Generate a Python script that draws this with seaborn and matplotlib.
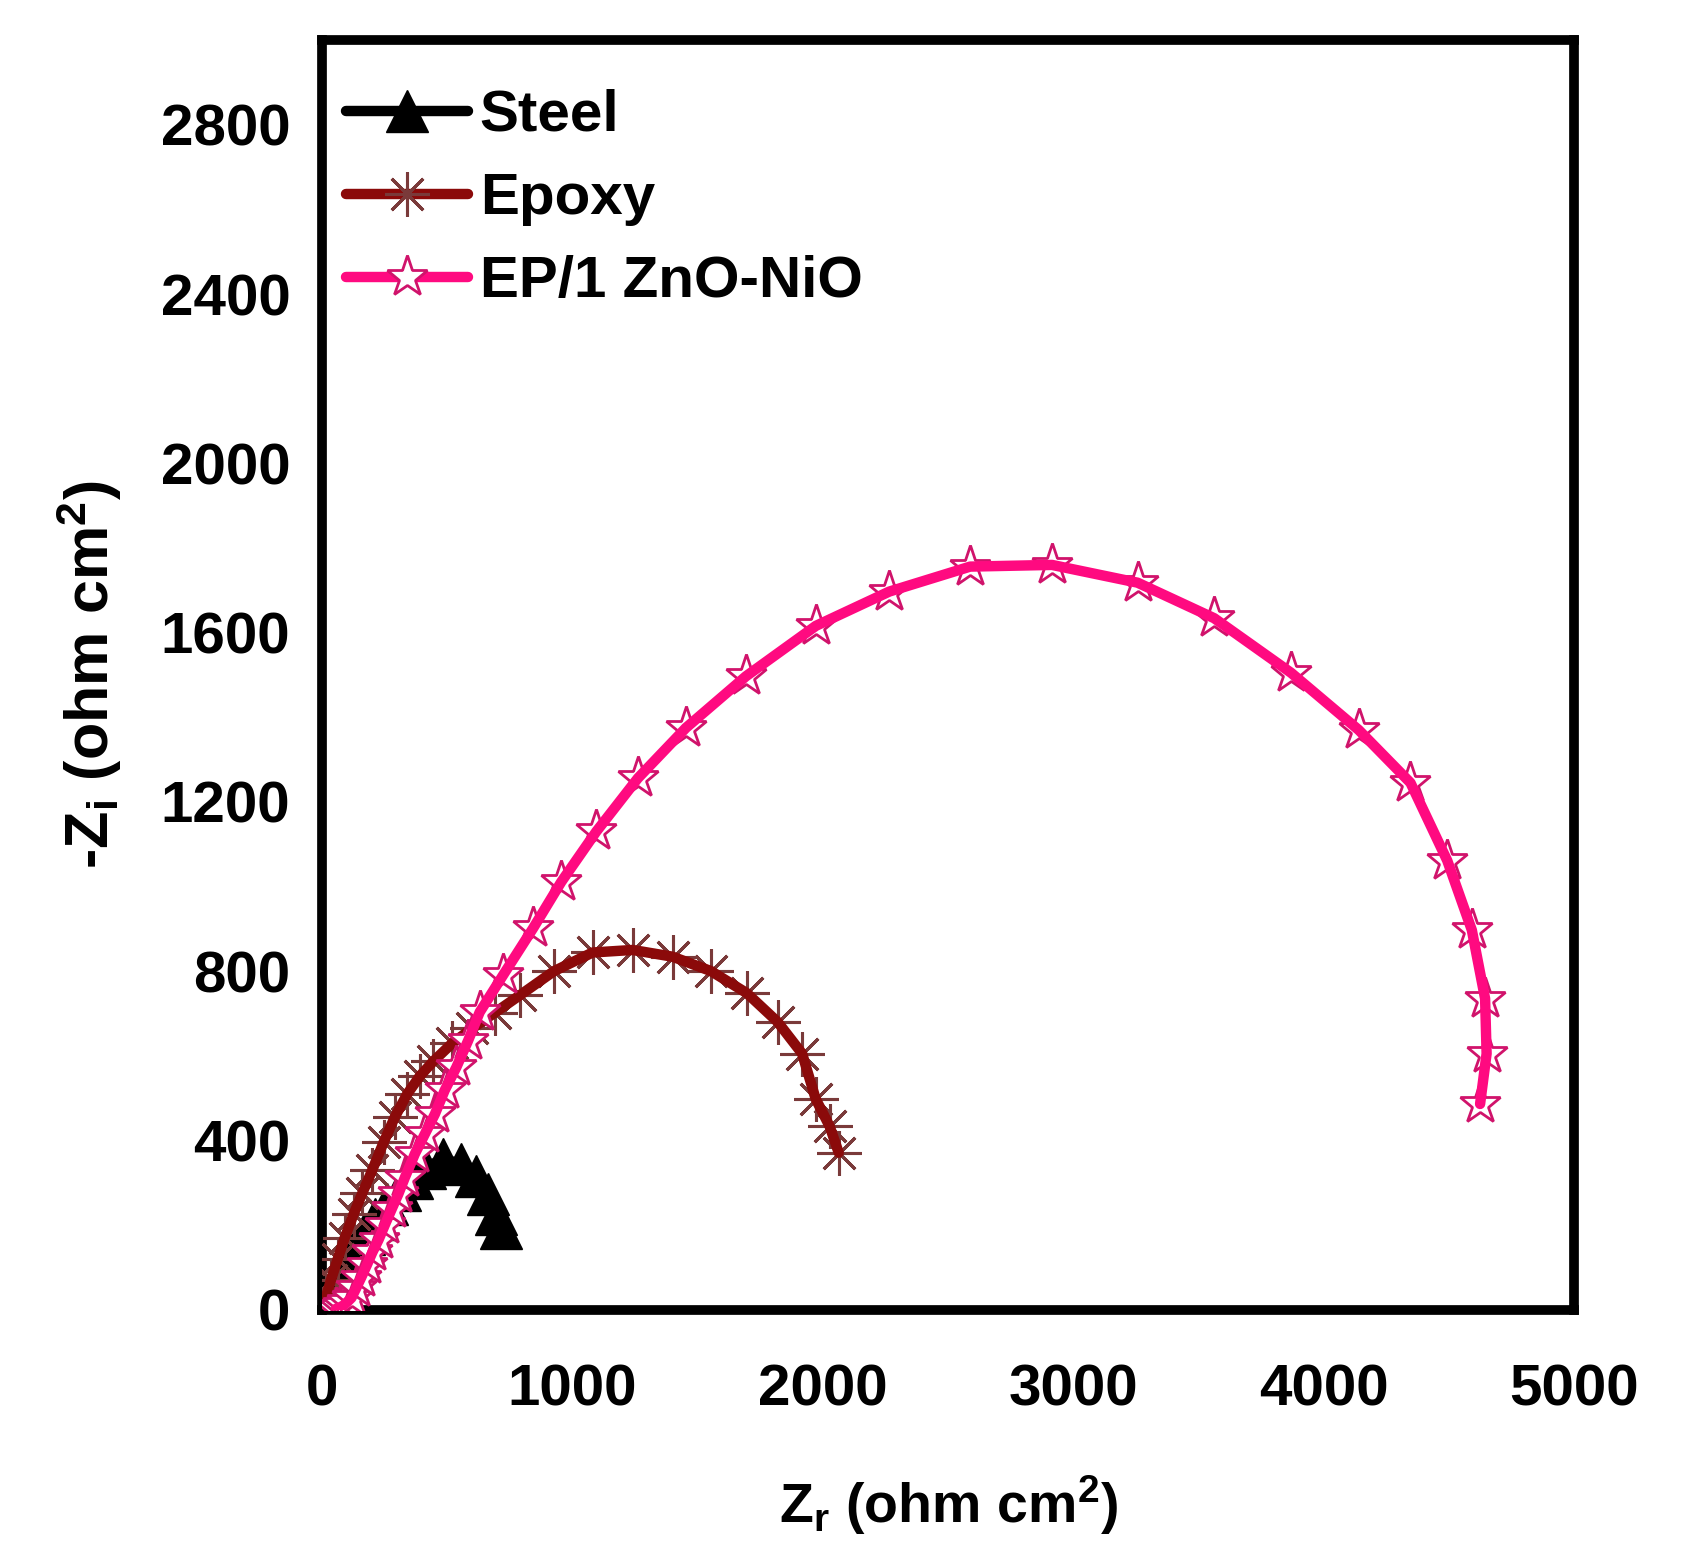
import matplotlib
matplotlib.use("Agg")
import matplotlib.pyplot as plt
import seaborn as sns
import pandas as pd
from matplotlib.lines import Line2D

# ---------------- data ----------------
steel_x = [15, 35, 60, 90, 125, 165, 210, 260, 310, 360, 409, 483, 556, 616, 662, 696, 716]
steel_y = [15, 40, 70, 105, 140, 178, 215, 250, 282, 310, 335, 356, 344, 316, 273, 225, 194]

epoxy_x = [15, 35, 62, 90, 125, 160, 200, 245, 290, 340, 390, 444, 520, 600, 690, 792,
           926, 1080, 1240, 1400, 1553, 1696, 1819, 1917, 1971, 2027, 2063]
epoxy_y = [30, 70, 120, 170, 225, 275, 330, 395, 455, 510, 552, 587, 630, 665, 702, 744,
           800, 844, 850, 834, 800, 748, 680, 605, 498, 433, 371]

znonio_x = [55, 70, 85, 100, 117, 135, 155, 178, 200, 225, 250, 277, 304, 330, 370, 410, 450,
            489, 536, 583, 629, 722, 842, 955, 1095, 1261, 1453, 1693, 1972, 2265, 2588, 2915,
            3257, 3563, 3870, 4140, 4347, 4494, 4592, 4645, 4651, 4625]
znonio_y = [2, 5, 10, 18, 28, 50, 75, 105, 135, 165, 200, 237, 273, 312, 368, 415, 462,
            518, 573, 636, 703, 790, 901, 1011, 1130, 1256, 1375, 1497, 1616, 1697, 1756, 1760,
            1718, 1634, 1505, 1370, 1245, 1061, 897, 735, 605, 486]

labels = ["Steel", "Epoxy", "EP/1 ZnO-NiO"]
x_ticks = [0, 1000, 2000, 3000, 4000, 5000]
y_ticks = [0, 400, 800, 1200, 1600, 2000, 2400, 2800]

# ---------------- style ----------------
sns.set_style("white")
plt.rcParams["font.family"] = ["Liberation Sans", "DejaVu Sans"]
plt.rcParams["font.weight"] = "bold"
plt.rcParams["text.color"] = "black"
plt.rcParams["axes.labelcolor"] = "black"
plt.rcParams["xtick.color"] = "black"
plt.rcParams["ytick.color"] = "black"
plt.rcParams["mathtext.fontset"] = "custom"
plt.rcParams["mathtext.rm"] = "Liberation Sans:bold"
plt.rcParams["mathtext.it"] = "Liberation Sans:bold"
plt.rcParams["mathtext.bf"] = "Liberation Sans:bold"

FS = 42

fig = plt.figure(figsize=(16.87, 15.48), dpi=100)
ax = fig.add_axes([0.191, 0.154, 0.742, 0.820])

series = [
    dict(x=steel_x, y=steel_y, lc="black", mk="^", mfc="black", mec="black", ms=30, mew=1),
    dict(x=epoxy_x, y=epoxy_y, lc="#8b0a0a", mk=(8, 2, 0), mfc="none", mec="#7a3a3a", ms=32, mew=2.2),
    dict(x=znonio_x, y=znonio_y, lc="#ff0a80", mk="*", mfc="white", mec="#d0136b", ms=31, mew=2.0),
]

handles = []
for i, (s, lab) in enumerate(zip(series, labels)):
    df = pd.DataFrame({"x": s["x"], "y": s["y"]})
    # markers first, line on top (as in the reference)
    ax.plot(df["x"], df["y"], linestyle="none", marker=s["mk"], markersize=s["ms"],
            markerfacecolor=s["mfc"], markeredgecolor=s["mec"], markeredgewidth=s["mew"],
            zorder=2 + 2 * i)
    sns.lineplot(data=df, x="x", y="y", sort=False, estimator=None, ax=ax,
                 color=s["lc"], linewidth=7.5, zorder=3 + 2 * i)
    handles.append(Line2D([0], [0], color=s["lc"], linewidth=7.5, marker=s["mk"],
                          markersize=s["ms"], markerfacecolor=s["mfc"],
                          markeredgecolor=s["mec"], markeredgewidth=s["mew"]))

ax.set_xlim(0, 5000)
ax.set_ylim(0, 3000)
ax.set_xticks(x_ticks)
ax.set_yticks(y_ticks)
ax.set_xticks([500, 1500, 2500, 3500, 4500], minor=True)
ax.set_yticks([200, 600, 1000, 1400, 1800, 2200, 2600], minor=True)
ax.set_xticklabels([str(v) for v in x_ticks], fontsize=FS, fontweight="bold")
ax.set_yticklabels([str(v) for v in y_ticks], fontsize=FS, fontweight="bold")

ax.tick_params(axis="both", which="major", direction="out", length=15, width=4.5,
               color="black")
ax.tick_params(axis="both", which="minor", direction="out", length=7, width=4.5,
               color="black")
ax.tick_params(axis="x", which="major", pad=24)
ax.tick_params(axis="y", which="major", pad=8)
ax.tick_params(top=False, right=False, which="both")

for sp in ax.spines.values():
    sp.set_linewidth(7)
    sp.set_color("black")
    sp.set_visible(True)

ax.set_xlabel(r"Z$_{\rm r}$ (ohm cm$^{\rm 2}$)", fontsize=40, fontweight="bold", labelpad=40)
ax.set_ylabel(r"-Z$_{\rm i}$ (ohm cm$^{\rm 2}$)", fontsize=44, fontweight="bold", labelpad=26)

leg = ax.legend(handles, labels, loc="upper left", bbox_to_anchor=(0.0, 0.98),
                borderaxespad=0, frameon=False, fontsize=FS, handlelength=2.1,
                handletextpad=0.2, labelspacing=0.5, borderpad=0.4)
for t in leg.get_texts():
    t.set_fontweight("bold")

fig.savefig("out.png", dpi=100)
